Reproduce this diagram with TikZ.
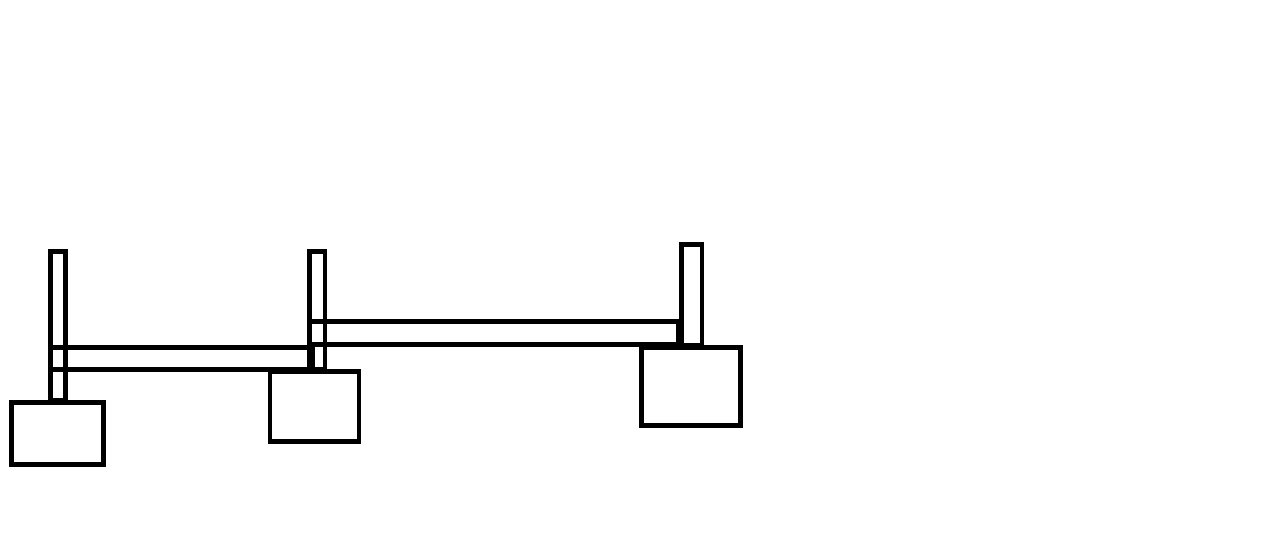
\documentclass[tikz,border=0pt]{standalone}
\begin{document}
\begin{tikzpicture}[x=1pt,y=-1pt,part/.style={draw=black,line width=4.6pt,line join=miter}]
\useasboundingbox[fill=white] (0,0) rectangle (1274,538);
% posts
\draw[part] (50.5,251.5) rectangle (65.5,400);
\draw[part] (309.5,251.5) rectangle (325,369.5);
\draw[part] (681.5,244.5) rectangle (702,345);
% beams
\draw[part] (51,347.5) rectangle (313,369.5);
\draw[part] (310,321.5) rectangle (678.5,344.5);
% footings
\draw[part] (11.5,402.5) rectangle (103.5,464.5);
\draw[part] (270,371.5) rectangle (359,441.5);
\draw[part] (641.5,347.5) rectangle (740.5,425.5);
\end{tikzpicture}
\end{document}
